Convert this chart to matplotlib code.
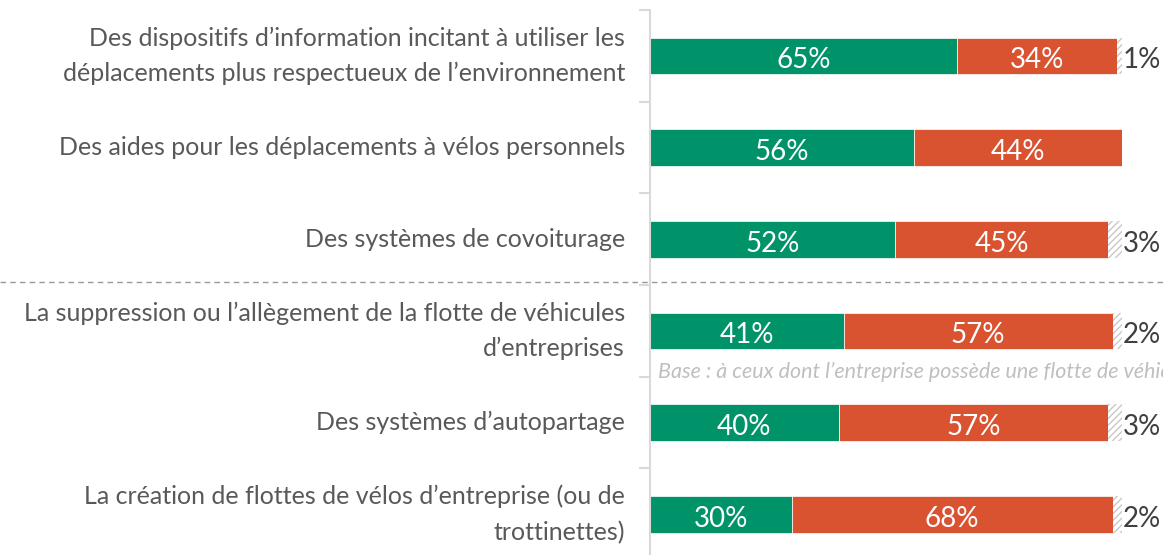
import matplotlib.pyplot as plt
import numpy as np

plt.rcParams['font.family'] = ['Lato', 'DejaVu Sans']

# data
labels = [
    "Des dispositifs d\u2019information incitant \u00e0 utiliser les\nd\u00e9placements plus respectueux de l\u2019environnement",
    "Des aides pour les d\u00e9placements \u00e0 v\u00e9los personnels",
    "Des syst\u00e8mes de covoiturage",
    "La suppression ou l\u2019all\u00e8gement de la flotte de v\u00e9hicules\nd\u2019entreprises",
    "Des syst\u00e8mes d\u2019autopartage",
    "La cr\u00e9ation de flottes de v\u00e9los d\u2019entreprise (ou de\ntrottinettes)",
]
oui = [65, 56, 52, 41, 40, 30]
non = [34, 44, 45, 57, 57, 68]
nsp = [1, 0, 3, 2, 3, 2]

green = '#00936A'
orange = '#D95331'

fig = plt.figure(figsize=(11.63, 5.55), dpi=100)
ax = fig.add_axes([650 / 1163, -5 / 555, 472 / 1163, 550 / 555])

y = np.arange(len(labels))
h = 0.4
ax.barh(y, oui, height=h, color=green, edgecolor='white', linewidth=0.5)
ax.barh(y, non, left=oui, height=h, color=orange, edgecolor='white', linewidth=0.5)
left3 = np.array(oui) + np.array(non)
ax.barh(y, nsp, left=left3, height=h, color='white', edgecolor='#c8c8c8',
        hatch='/////', linewidth=0)

for i in range(len(labels)):
    ax.text(oui[i] / 2, y[i] + 0.05, f"{oui[i]}%", ha='center', va='center',
            color='white', fontsize=20)
    ax.text(oui[i] + non[i] / 2, y[i] + 0.05, f"{non[i]}%", ha='center', va='center',
            color='white', fontsize=20)
    if nsp[i] > 0:
        ax.text(left3[i] + nsp[i] + 0.1, y[i] + 0.05, f"{nsp[i]}%", ha='left',
                va='center', color='#404040', fontsize=20, clip_on=False)

ax.set_xlim(0, 100)
ax.set_ylim(len(labels) - 0.5, -0.5)
ax.set_yticks(y)
ax.set_yticklabels(labels, fontsize=18, color='#595959', linespacing=1.65)
for lab in ax.get_yticklabels():
    lab.set_va('center')
ax.set_yticks(np.arange(-0.5, len(labels), 1), minor=True)
ax.tick_params(axis='y', which='major', length=0, pad=18)
ax.tick_params(axis='y', which='minor', length=8, color='#d9d9d9', width=1.5)
ax.set_xticks([])
for s in ['top', 'right', 'bottom']:
    ax.spines[s].set_visible(False)
ax.spines['left'].set_color('#d9d9d9')
ax.spines['left'].set_linewidth(1.5)

# separator between the two groups
fig.add_artist(plt.Line2D([0, 1], [1 - 282 / 555] * 2, transform=fig.transFigure,
                          color='#999999', linestyle=(0, (4, 3)), linewidth=1))

# base note, runs off the right edge as in the original
ax.text(1.8, 3.45, "Base : \u00e0 ceux dont l\u2019entreprise poss\u00e8de une flotte de v\u00e9hicules",
        style='italic', color='#bfbfbf', fontsize=15.5, va='center', ha='left', clip_on=False)

fig.savefig('out.png', dpi=100)
